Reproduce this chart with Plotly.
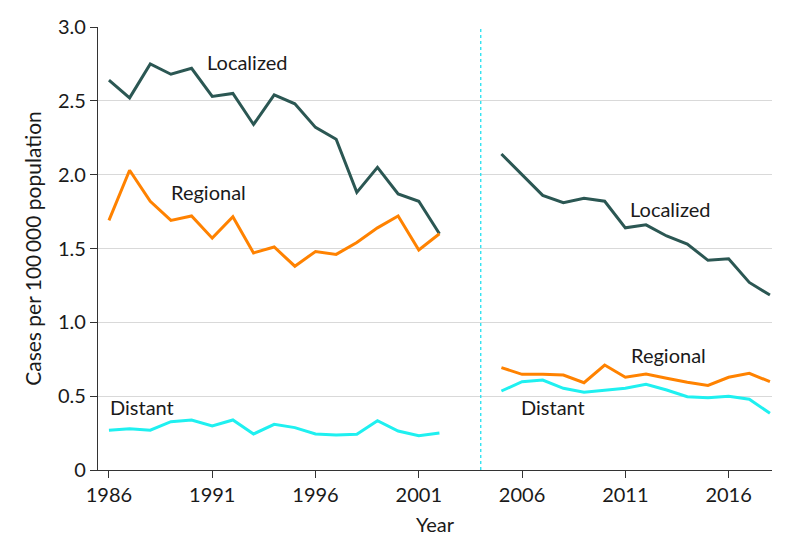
import plotly.graph_objects as go

years_a = list(range(1986, 2003))
years_b = list(range(2005, 2019))

localized_a = [2.64, 2.52, 2.75, 2.68, 2.72, 2.53, 2.55, 2.34, 2.54, 2.48, 2.32, 2.24, 1.88, 2.05, 1.87, 1.82, 1.60]
regional_a = [1.69, 2.03, 1.82, 1.69, 1.72, 1.57, 1.715, 1.47, 1.51, 1.38, 1.48, 1.46, 1.54, 1.64, 1.72, 1.49, 1.60]
distant_a = [0.27, 0.28, 0.27, 0.327, 0.339, 0.298, 0.339, 0.244, 0.309, 0.287, 0.244, 0.237, 0.242, 0.334, 0.264, 0.232, 0.251]

localized_b = [2.14, 2.00, 1.86, 1.81, 1.84, 1.82, 1.64, 1.66, 1.585, 1.53, 1.42, 1.43, 1.27, 1.185]
regional_b = [0.693, 0.648, 0.648, 0.643, 0.591, 0.711, 0.628, 0.65, 0.621, 0.594, 0.573, 0.628, 0.655, 0.598]
distant_b = [0.535, 0.598, 0.609, 0.553, 0.526, 0.542, 0.553, 0.58, 0.542, 0.496, 0.49, 0.499, 0.479, 0.384]

x_ticks = [1986, 1991, 1996, 2001, 2006, 2011, 2016]
y_ticks = [0, 0.5, 1.0, 1.5, 2.0, 2.5, 3.0]
y_ticktext = ["0", "0.5", "1.0", "1.5", "2.0", "2.5", "3.0"]
break_year = 2004

labels = [
    ("Localized", 1992.7, 2.76),
    ("Regional", 1990.8, 1.88),
    ("Distant", 1987.6, 0.43),
    ("Localized", 2013.2, 1.77),
    ("Regional", 2013.1, 0.78),
    ("Distant", 2007.5, 0.43),
]

C_LOC = "#2b5753"
C_REG = "#ff8200"
C_DIS = "#1ff0f0"

FONT = "Lato, Noto Sans, sans-serif"

fig = go.Figure()
for xs, ys, c in [
    (years_a, localized_a, C_LOC), (years_a, regional_a, C_REG), (years_a, distant_a, C_DIS),
    (years_b, localized_b, C_LOC), (years_b, regional_b, C_REG), (years_b, distant_b, C_DIS),
]:
    fig.add_trace(go.Scatter(x=xs, y=ys, mode="lines",
                             line=dict(color=c, width=3), showlegend=False,
                             hoverinfo="skip"))

fig.add_shape(type="line", x0=break_year, x1=break_year, y0=0, y1=3.0,
              xref="x", yref="y", line=dict(color="#22e0f0", width=1.3, dash="dot"))

for t, x, y in labels:
    fig.add_annotation(x=x, y=y, text=t, showarrow=False,
                       font=dict(size=20, color="#1a1a1a", family=FONT))

fig.update_layout(
    width=794, height=556,
    margin=dict(l=90, r=30, t=19, b=94),
    paper_bgcolor="white", plot_bgcolor="white",
    font=dict(family=FONT, size=20, color="#1a1a1a"),
    xaxis=dict(range=[1985.47, 2018.1], tickvals=x_ticks, showgrid=False,
               showline=True, linecolor="#333", linewidth=1.2,
               ticks="outside", ticklen=7, tickcolor="#333", automargin=False,
               title=dict(text="Year", font=dict(size=20), standoff=12),
               zeroline=False, tickfont=dict(size=20)),
    yaxis=dict(range=[0, 3.0], tickvals=y_ticks, ticktext=y_ticktext,
               showgrid=True, gridcolor="#d9d9d9", gridwidth=1.3,
               showline=True, linecolor="#333", linewidth=1.2,
               ticks="outside", ticklen=7, tickcolor="#333", automargin=False,
               title=dict(text="Cases per 100\u2009000 population", font=dict(size=21), standoff=10),
               zeroline=False, tickfont=dict(size=20)),
)

fig.write_html("out.html")
